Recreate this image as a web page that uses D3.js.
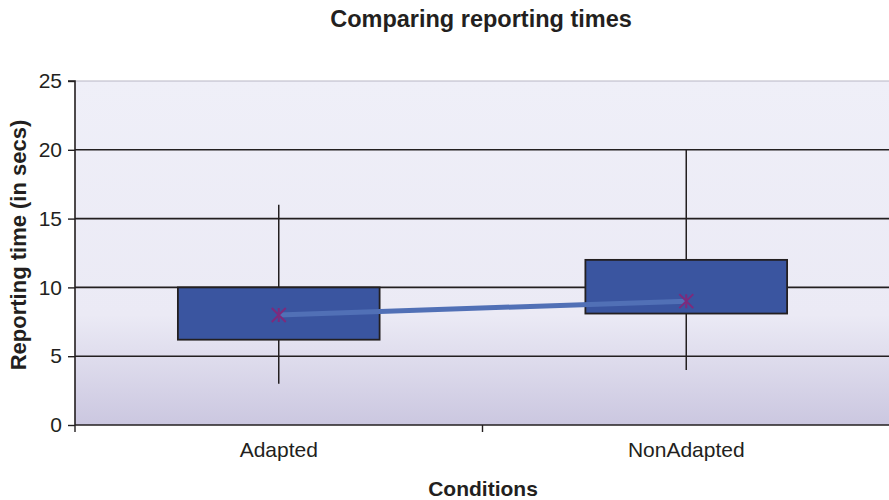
<!DOCTYPE html>
<html><head><meta charset="utf-8">
<script src="https://cdn.jsdelivr.net/npm/d3@7"></script>
<style>body{margin:0;background:#fff}svg{display:block;font-family:"Liberation Sans",Arial,sans-serif}</style>
</head><body><svg id="c" width="889" height="500"></svg>
<script>
const categories = ["Adapted", "NonAdapted"];
const whiskerLow = [3, 4];
const q1 = [6.2, 8.1];
const q3 = [10, 12];
const whiskerHigh = [16, 20];
const means = [8, 9];
const yTicks = [0, 5, 10, 15, 20, 25];

const svg = d3.select("#c");
const L = 75, R = 890, T = 81, B = 425;
const x = d3.scaleBand().domain(categories).range([L, R]);
const y = d3.scaleLinear().domain([0, 25]).range([B, T]);

const defs = svg.append("defs");
const g = defs.append("linearGradient").attr("id", "bg").attr("x1", 0).attr("y1", 0).attr("x2", 0).attr("y2", 1);
g.append("stop").attr("offset", "0").attr("stop-color", "#efeff8");
g.append("stop").attr("offset", "0.68").attr("stop-color", "#ebeaf5");
g.append("stop").attr("offset", "1").attr("stop-color", "#cbc7e0");

svg.append("rect").attr("x", L).attr("y", T).attr("width", 889 - L).attr("height", B - T).attr("fill", "url(#bg)");
svg.append("line").attr("x1", L).attr("x2", 889).attr("y1", T).attr("y2", T).attr("stroke", "#b8b6c4").attr("stroke-width", 1);

// gridlines
svg.append("g").selectAll("line").data(yTicks.filter(d => d > 0 && d < 25)).join("line")
  .attr("x1", L).attr("x2", 889).attr("y1", d => y(d)).attr("y2", d => y(d))
  .attr("stroke", "#231f20").attr("stroke-width", 1.6);

const FS = 21;
// y axis
const ya = svg.append("g").attr("transform", `translate(${L},0)`)
  .call(d3.axisLeft(y).tickValues(yTicks).tickSize(7).tickPadding(6));
ya.select(".domain").attr("stroke", "#231f20").attr("stroke-width", 1.6).attr("d", `M-7,${T}H0V${B}`);
ya.selectAll(".tick line").attr("stroke", "#231f20").attr("stroke-width", 1.4);
ya.selectAll("text").attr("font-size", FS).attr("fill", "#231f20").attr("font-family", "Liberation Sans, Arial, sans-serif");

// x axis
const xa = svg.append("g").attr("transform", `translate(0,${B})`)
  .call(d3.axisBottom(x).tickSize(0).tickPadding(17));
xa.select(".domain").attr("stroke", "#231f20").attr("stroke-width", 1.6).attr("d", `M${L},0H889`);
xa.selectAll("text").attr("font-size", FS).attr("fill", "#231f20").attr("font-family", "Liberation Sans, Arial, sans-serif");
// tick marks at band boundaries
svg.append("g").selectAll("line").data(categories.slice(1)).join("line")
  .attr("x1", d => x(d)).attr("x2", d => x(d)).attr("y1", B).attr("y2", B + 7)
  .attr("stroke", "#231f20").attr("stroke-width", 1.4);
svg.append("line").attr("x1", L).attr("x2", L).attr("y1", B).attr("y2", B + 7).attr("stroke", "#231f20").attr("stroke-width", 1.4);

const cx = i => x(categories[i]) + x.bandwidth() / 2;
const bw = x.bandwidth() * 0.495;

// whiskers
svg.append("g").selectAll("line").data(categories).join("line")
  .attr("x1", (d, i) => cx(i)).attr("x2", (d, i) => cx(i))
  .attr("y1", (d, i) => y(whiskerLow[i])).attr("y2", (d, i) => y(whiskerHigh[i]))
  .attr("stroke", "#231f20").attr("stroke-width", 1.5);

// boxes
svg.append("g").selectAll("rect").data(categories).join("rect")
  .attr("x", (d, i) => cx(i) - bw / 2).attr("width", bw)
  .attr("y", (d, i) => y(q3[i])).attr("height", (d, i) => y(q1[i]) - y(q3[i]))
  .attr("fill", "#3a55a0").attr("stroke", "#231f20").attr("stroke-width", 1.8);

// mean line
svg.append("path").datum(means)
  .attr("d", d3.line().x((d, i) => cx(i)).y(d => y(d)))
  .attr("fill", "none").attr("stroke", "#5170b6").attr("stroke-width", 5);

// asterisk markers
const mk = svg.append("g").selectAll("g").data(means).join("g")
  .attr("transform", (d, i) => `translate(${cx(i)},${y(d)})`);
const s = 7;
mk.append("path").attr("d", `M${-s},${-s}L${s},${s}M${-s},${s}L${s},${-s}M0,${-s}L0,${s}`)
  .attr("stroke", "#7e2a7c").attr("stroke-width", 2).attr("fill", "none");

// titles
svg.append("text").attr("x", 481).attr("y", 27).attr("text-anchor", "middle")
  .attr("font-size", 23.5).attr("font-weight", "bold").attr("fill", "#231f20").text("Comparing reporting times");
svg.append("text").attr("x", 483).attr("y", 496).attr("text-anchor", "middle")
  .attr("font-size", 21).attr("font-weight", "bold").attr("fill", "#231f20").text("Conditions");
svg.append("text").attr("transform", `translate(26,${(T + B) / 2 - 8}) rotate(-90)`).attr("text-anchor", "middle")
  .attr("font-size", 22).attr("font-weight", "bold").attr("fill", "#231f20").text("Reporting time (in secs)");
</script></body></html>
